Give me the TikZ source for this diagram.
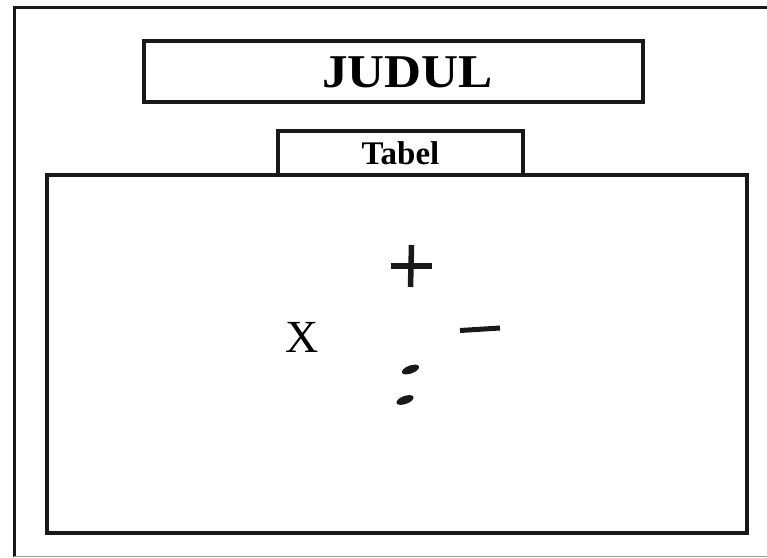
\documentclass[tikz,border=0pt]{standalone}
\usepackage{fontspec}
\setmainfont{Liberation Serif}
\begin{document}
\begin{tikzpicture}[x=1pt,y=-1pt,
  frame/.style={draw=black!90, line width=3.5pt, inner sep=0pt},
  mark stroke/.style={line width=5.5pt, black!90}]
\useasboundingbox (0,0) rectangle (767,557);
% page frame, cut at the right
\draw[line width=3pt, black!90] (770,7) -- (14,7) -- (14,557);
\draw[line width=1pt, black!40] (14,556) -- (767,556);
% boxes
\node[frame, minimum width=499, minimum height=61] (title) at (393.5,71.5) {};
\node[xscale=1.09] (titletext) at (407.5,72.5)
  {\fontsize{47}{47}\selectfont\bfseries JUDUL};
\node[frame, minimum width=245, minimum height=44] (tabel) at (400.5,153)
  {\fontsize{33}{33}\selectfont\bfseries Tabel};
\node[frame, fill=white, minimum width=700, minimum height=358] (table) at (397,354) {};
% symbols inside the table
\node (x) at (302,337) {\fontsize{46}{46}\selectfont X};
\draw[mark stroke] (391,266) -- (432,266);
\draw[mark stroke] (411.5,245) -- (410.5,287);
\draw[mark stroke, line width=5pt] (460,330.5) -- (500,328);
\fill[black!90, shift={(410.5,369.5)}, rotate=20] (0,0) ellipse [x radius=9, y radius=4];
\fill[black!90, shift={(405,400)}, rotate=20] (0,0) ellipse [x radius=9, y radius=4];
\end{tikzpicture}
\end{document}
